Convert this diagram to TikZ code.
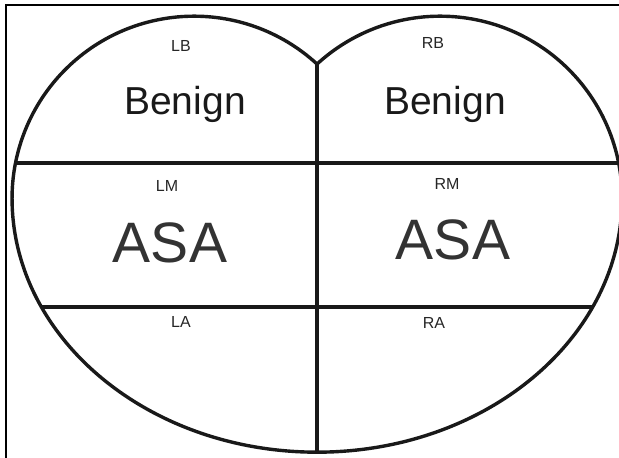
\documentclass[tikz,border=0pt]{standalone}
\usepackage{fontspec}
\setmainfont{Liberation Sans}
\usetikzlibrary{calc}
\tikzstyle{outline} = [line width=3.4pt, black!90]
\tikzstyle{zone} = [anchor=base, inner sep=0pt, text=black!85, font=\fontsize{16}{16}\selectfont]
\tikzstyle{tissue} = [anchor=base, inner sep=0pt, text=black!90, font=\fontsize{39}{39}\selectfont]
\tikzstyle{finding} = [anchor=base, inner sep=0pt, text=black!80, font=\fontsize{57}{57}\selectfont]

\begin{document}
\begin{tikzpicture}[x=1pt, y=1pt]
\useasboundingbox (0,0) rectangle (619,458);
% frame
\draw[line width=2.6pt] (619,453) -- (6,453) -- (6,0);

% outline of both sides
\coordinate (top) at (317,394);
\coordinate (bottom) at (317,5.8);
\draw[outline] (top) arc[start angle=47.5, end angle=180, radius=182]
    arc[start angle=180, end angle=360, x radius=305, y radius=254]
    arc[start angle=0, end angle=132.5, radius=182] -- cycle;

% divisions
\coordinate (l1) at (15.4,295);
\coordinate (r1) at (618.6,295);
\coordinate (l2) at (41.5,151);
\coordinate (r2) at (592.5,151);
\draw[outline] (top) -- (bottom);
\draw[outline] (l1) -- (r1);
\draw[outline] (l2) -- (r2);

% labels
\node[zone] (lb) at (181,406) {LB};
\node[zone] (rb) at (433,409) {RB};
\node[tissue] (lben) at (185,343) {Benign};
\node[tissue] (rben) at (445,343) {Benign};
\node[zone] (lm) at (167,266) {LM};
\node[zone] (rm) at (447,268) {RM};
\node[finding] (lasa) at (170,195) {ASA};
\node[finding] (rasa) at (453,198) {ASA};
\node[zone] (la) at (181,130) {LA};
\node[zone] (ra) at (434,129) {RA};
\end{tikzpicture}
\end{document}
